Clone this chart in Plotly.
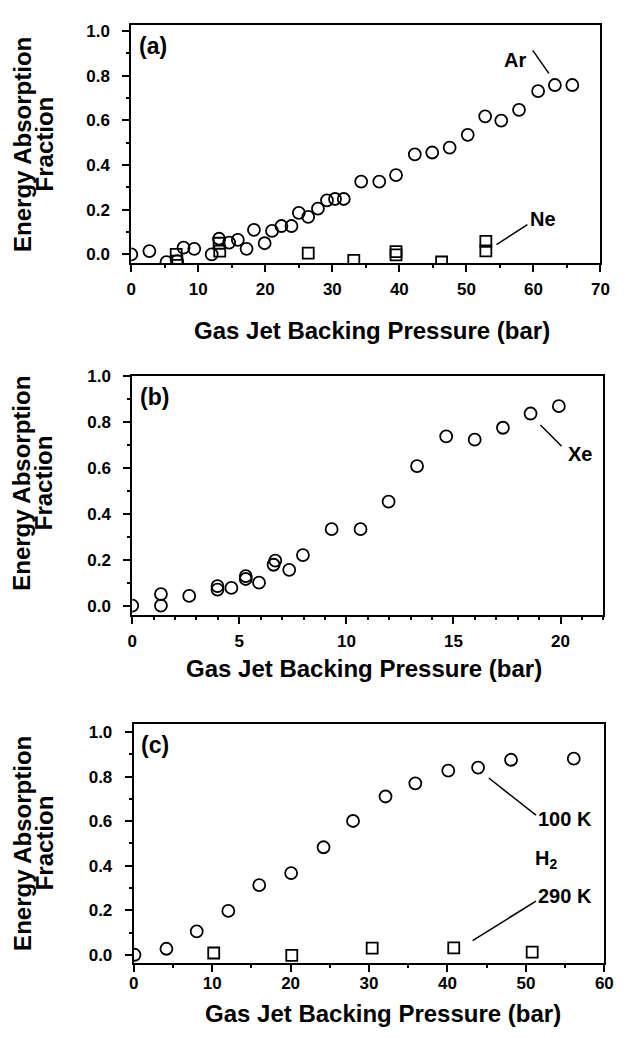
import plotly.graph_objects as go

# ---------------- data ----------------
# (a) Ar (circles) and Ne (squares)
ar_x = [0.0, 2.7, 5.25, 6.85, 7.8, 9.4, 12.0, 13.1, 14.6, 15.9, 17.2, 18.3, 19.9, 21.0, 22.4, 23.9,
        25.0, 26.4, 27.85, 29.2, 30.4, 31.7, 34.3, 37.0, 39.5, 42.3, 44.9, 47.5, 50.2, 52.8, 55.2,
        57.85, 60.7, 63.2, 65.8]
ar_y = [0.0, 0.015, -0.035, -0.03, 0.03, 0.025, 0.0, 0.07, 0.053, 0.065, 0.025, 0.11, 0.05, 0.105,
        0.127, 0.127, 0.186, 0.168, 0.205, 0.242, 0.248, 0.248, 0.326, 0.326, 0.355, 0.448, 0.456,
        0.478, 0.535, 0.618, 0.599, 0.647, 0.731, 0.758, 0.758]
ne_x = [6.7, 6.8, 13.1, 13.2, 26.4, 33.2, 39.5, 39.5, 46.3, 52.9, 52.9]
ne_y = [0.0, -0.03, 0.05, 0.015, 0.006, -0.027, 0.012, -0.002, -0.034, 0.058, 0.016]

# (b) Xe
xe_x = [0.0, 1.34, 1.34, 2.66, 3.98, 3.98, 4.63, 5.3, 5.3, 5.92, 6.6, 6.68, 7.33, 7.97, 9.31,
        10.66, 11.97, 13.3, 14.66, 15.99, 17.31, 18.6, 19.92]
xe_y = [0.0, 0.0, 0.05, 0.042, 0.07, 0.085, 0.077, 0.116, 0.128, 0.1, 0.178, 0.196, 0.156, 0.22,
        0.333, 0.333, 0.453, 0.608, 0.737, 0.723, 0.775, 0.837, 0.869]

# (c) H2 at 100 K (circles) and 290 K (squares)
h100_x = [0.1, 4.17, 8.03, 12.06, 16.0, 20.07, 24.2, 27.96, 32.1, 35.9, 40.1, 43.9, 48.1, 56.1]
h100_y = [0.0, 0.027, 0.105, 0.197, 0.313, 0.367, 0.483, 0.601, 0.711, 0.77, 0.827, 0.841, 0.876, 0.881]
h290_x = [10.2, 20.15, 30.4, 40.8, 50.8]
h290_y = [0.008, -0.003, 0.03, 0.031, 0.012]

x_title = "Gas Jet Backing Pressure (bar)"
y_title_1 = "Energy Absorption"
y_title_2 = "Fraction"
panel_labels = ["(a)", "(b)", "(c)"]

# ---------------- figure ----------------
# the page body has an 8px margin; the figure fills the rest of the window
OFF = 8
W, H = 629 - OFF, 1038 - OFF
FONT = "Liberation Sans, Arial, Helvetica, sans-serif"


def px(xp):
    return (xp - OFF) / W


def py(yp):
    return 1 - (yp - OFF) / H


fig = go.Figure()

circle = dict(symbol="circle-open", size=12, color="black", line=dict(width=1.8, color="black"))
square = dict(symbol="square-open", size=11, color="black", line=dict(width=1.8, color="black"))

fig.add_trace(go.Scatter(x=ar_x, y=ar_y, mode="markers", marker=circle, xaxis="x", yaxis="y", showlegend=False))
fig.add_trace(go.Scatter(x=ne_x, y=ne_y, mode="markers", marker=square, xaxis="x", yaxis="y", showlegend=False))
fig.add_trace(go.Scatter(x=xe_x, y=xe_y, mode="markers", marker=circle, xaxis="x2", yaxis="y2", showlegend=False))
fig.add_trace(go.Scatter(x=h100_x, y=h100_y, mode="markers", marker=circle, xaxis="x3", yaxis="y3", showlegend=False))
fig.add_trace(go.Scatter(x=h290_x, y=h290_y, mode="markers", marker=square, xaxis="x3", yaxis="y3", showlegend=False))

# panel geometry in window pixels
panels = [
    dict(l=129, r=609, t=16, b=257, xr=[0, 70], yr=[-0.04, 1.027], dx=10, mdx=5,
         xso=2, title=(375, 325), ymid=136.5),
    dict(l=130, r=612, t=371, b=612, xr=[0, 22], yr=[-0.039, 1.0], dx=5, mdx=1,
         xso=3, title=(367, 667), ymid=479),
    dict(l=131.5, r=613, t=723, b=964, xr=[0, 60], yr=[-0.036, 1.035], dx=10, mdx=5,
         xso=-3, title=(387, 1015), ymid=843),
]

tickfont = dict(family=FONT, size=17, color="black", weight="bold")

layout = dict(width=W, height=H, margin=dict(l=0, r=0, t=0, b=0),
              paper_bgcolor="white", plot_bgcolor="white")

for i, p in enumerate(panels):
    sfx = "" if i == 0 else str(i + 1)
    layout["xaxis" + sfx] = dict(
        domain=[px(p["l"]), px(p["r"])], range=p["xr"], anchor="y" + sfx,
        showline=True, mirror=True, linecolor="black", linewidth=2,
        showgrid=False, zeroline=False, ticks="outside", ticklen=7, tickwidth=2,
        tickcolor="black", dtick=p["dx"], tick0=0, tickfont=tickfont, ticklabelstandoff=p["xso"],
        minor=dict(dtick=p["mdx"], ticks="outside", ticklen=3, tickwidth=2, tickcolor="black"),
    )
    layout["yaxis" + sfx] = dict(
        domain=[py(p["b"]), py(p["t"])], range=p["yr"], anchor="x" + sfx,
        showline=True, mirror=True, linecolor="black", linewidth=2,
        showgrid=False, zeroline=False, ticks="outside", ticklen=7, tickwidth=2,
        tickcolor="black", dtick=0.2, tick0=0, tickformat=".1f", tickfont=tickfont,
        ticklabelstandoff=9,
        minor=dict(dtick=0.1, ticks="outside", ticklen=3, tickwidth=2, tickcolor="black"),
    )

fig.update_layout(**layout)

annotations = []
shapes = []

title_font = dict(family=FONT, size=24, color="black", weight="bold")
ytitle_font = dict(family=FONT, size=24, color="black", weight="bold")
label_font = dict(family=FONT, size=20, color="black", weight="bold")
panel_font = dict(family=FONT, size=23, color="black", weight="bold")

for i, p in enumerate(panels):
    cx, cy = p["title"]
    annotations.append(dict(text=x_title, xref="paper", yref="paper", x=px(cx), y=py(cy),
                            xanchor="center", yanchor="middle", showarrow=False, font=title_font))
    annotations.append(dict(text=y_title_1, xref="paper", yref="paper", x=px(17), y=py(p["ymid"]),
                            xanchor="center", yanchor="middle", textangle=-90, showarrow=False,
                            font=ytitle_font))
    annotations.append(dict(text=y_title_2, xref="paper", yref="paper", x=px(40), y=py(p["ymid"]),
                            xanchor="center", yanchor="middle", textangle=-90, showarrow=False,
                            font=ytitle_font))
    sfx = "" if i == 0 else str(i + 1)
    annotations.append(dict(text=panel_labels[i], xref="x" + sfx + " domain", yref="y" + sfx + " domain",
                            x=0.012, y=0.975, xanchor="left", yanchor="top", showarrow=False,
                            font=panel_font))


def lab(text, x, y, ax, ay):
    annotations.append(dict(text=text, xref=ax, yref=ay, x=x, y=y, xanchor="center",
                            yanchor="middle", showarrow=False, font=label_font))


def leader(x0, y0, x1, y1, ax, ay):
    shapes.append(dict(type="line", xref=ax, yref=ay, x0=x0, y0=y0, x1=x1, y1=y1,
                       line=dict(color="black", width=1.5)))


lab("Ar", 57.3, 0.87, "x", "y")
leader(59.9, 0.913, 62.3, 0.81, "x", "y")
lab("Ne", 61.4, 0.16, "x", "y")
leader(59.1, 0.133, 54.5, 0.044, "x", "y")

lab("Xe", 20.9, 0.66, "x2", "y2")
leader(19.06, 0.787, 20.05, 0.694, "x2", "y2")

lab("100 K", 55.0, 0.612, "x3", "y3")
leader(45.27, 0.794, 51.28, 0.627, "x3", "y3")
lab("H<sub>2</sub>", 52.5, 0.43, "x3", "y3")
lab("290 K", 55.0, 0.264, "x3", "y3")
leader(43.2, 0.064, 51.28, 0.241, "x3", "y3")

fig.update_layout(annotations=annotations, shapes=shapes)

fig.write_html("out.html")
